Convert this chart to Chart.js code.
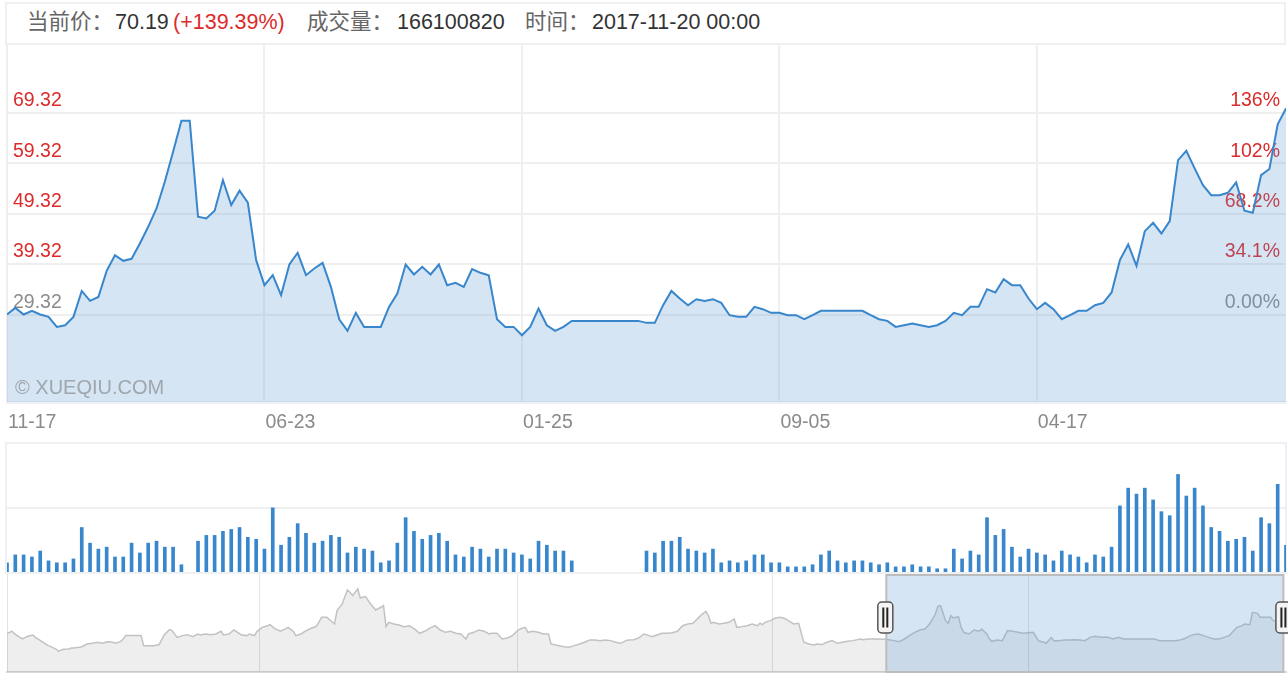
<!DOCTYPE html>
<html>
<head>
<meta charset="utf-8">
<script src="https://cdn.jsdelivr.net/npm/chart.js@4.4.1/dist/chart.umd.min.js"></script>
<style>
  body { margin: 0; background: #fff; width: 1288px; height: 674px; overflow: hidden; position: relative;
         font-family: "Liberation Sans", "Noto Sans CJK SC", sans-serif; }
  .frame { position: absolute; border: 2px solid #eef0f4; box-sizing: border-box; }
  .hdr { position: absolute; top: 10px; font-size: 21.5px; line-height: 24px; white-space: nowrap; }
  .lbl { color: #666; }
  .val { color: #333; }
  .up { color: #dd2a2a; }
  canvas { position: absolute; left: 0; }
  #mark { position: absolute; left: 15px; top: 376px; font-size: 20px; color: #9ea6ae; white-space: nowrap; }
</style>
</head>
<body>
<div class="frame" style="left:5px;top:2px;width:1281px;height:43px;"></div>
<span class="hdr lbl" style="left:27px">当前价：</span>
<span class="hdr val" id="hPrice" style="left:115px"></span>
<span class="hdr up" id="hChg" style="left:173px"></span>
<span class="hdr lbl" style="left:307px">成交量：</span>
<span class="hdr val" id="hVol" style="left:397px"></span>
<span class="hdr lbl" style="left:525px">时间：</span>
<span class="hdr val" id="hTime" style="left:592px"></span>

<canvas id="main" width="1288" height="396" style="top:44px"></canvas>
<div id="mark">© XUEQIU.COM</div>

<div class="frame" style="left:5px;top:442px;width:1282px;height:132px;"></div>
<canvas id="vol" width="1288" height="130" style="top:443px"></canvas>
<canvas id="nav" width="1288" height="100" style="top:574px"></canvas>

<script>
// 周线收盘价（2014-11-17 起）
const prices = [
  29.32, 30.64, 29.32, 30.05, 29.32, 28.86, 26.87, 27.2, 28.86, 34.0,
  32.03, 32.8, 37.98, 41.09, 39.97, 40.36, 43.41, 46.71, 50.35, 55.64,
  61.6, 67.75, 67.75, 48.7, 48.37, 49.89, 55.97, 51.01, 53.86, 51.48,
  40.1, 35.14, 37.12, 33.16, 39.24, 41.56, 37.12, 38.45, 39.57, 34.81,
  28.39, 26.08, 29.65, 26.87, 26.87, 26.87, 30.84, 33.49, 39.24, 37.26,
  38.78, 37.26, 39.24, 35.14, 35.6, 34.81, 38.32, 37.59, 37.12, 28.39,
  26.87, 26.87, 25.22, 26.87, 30.51, 27.2, 26.08, 26.87, 28.06, 28.06,
  28.06, 28.06, 28.06, 28.06, 28.06, 28.06, 28.06, 27.67, 27.67, 31.17,
  34.0, 32.49, 31.17, 32.36, 32.03, 32.36, 31.63, 29.19, 28.86, 28.86,
  30.84, 30.38, 29.65, 29.65, 29.19, 29.19, 28.39, 29.19, 30.05, 30.05,
  30.05, 30.05, 30.05, 30.05, 29.19, 28.39, 28.06, 26.87, 27.2, 27.53,
  27.2, 26.87, 27.2, 28.06, 29.65, 29.19, 30.84, 30.84, 34.35, 33.69,
  36.33, 35.14, 35.14, 32.49, 30.38, 31.63, 30.38, 28.39, 29.19, 30.05,
  30.05, 31.17, 31.63, 33.69, 40.1, 43.21, 38.98, 45.85, 47.51, 45.39,
  47.84, 59.94, 61.79, 58.29, 54.98, 52.99, 52.99, 53.46, 55.51, 49.89,
  49.49, 56.96, 58.16, 67.02, 70.19
];

// 成交量（百万股，0 为停牌周）
const volumes = [
  57, 106, 106, 93, 130, 69, 57, 57, 81, 276,
  179, 142, 154, 93, 93, 179, 118, 179, 191, 154,
  154, 45, 0, 191, 227, 227, 252, 264, 276, 215,
  203, 142, 398, 166, 215, 300, 240, 179, 191, 227,
  215, 118, 154, 142, 130, 57, 69, 179, 337, 252,
  203, 227, 240, 191, 106, 93, 154, 142, 93, 142,
  142, 118, 106, 81, 191, 166, 130, 130, 69, 0,
  0, 0, 0, 0, 0, 0, 0, 130, 118, 191,
  191, 215, 142, 130, 118, 142, 57, 69, 57, 69,
  106, 106, 57, 57, 32, 32, 32, 45, 106, 130,
  69, 57, 69, 69, 57, 45, 57, 32, 32, 45,
  32, 32, 20, 20, 142, 81, 130, 106, 337, 227,
  264, 154, 93, 142, 118, 106, 69, 130, 106, 93,
  57, 106, 93, 154, 410, 520, 483, 520, 447, 374,
  349, 605, 471, 520, 410, 276, 252, 191, 203, 215,
  130, 337, 300, 544, 166.1
];

const basePrice = 29.32;
const lastVolume = 166100820;
const lastTime = '2017-11-20 00:00';

const priceTicks = [29.32, 39.32, 49.32, 59.32, 69.32];
const priceMin = 11.98;
const priceMax = 82.95;
const xTickIdx = [0, 31, 62, 93, 124];
const xTickLabels = ['11-17', '06-23', '01-25', '09-05', '04-17'];

// 导航条：全历史（周序号 / 价格）
const navWeeks = [
  0, 2, 3, 5, 6, 8, 10, 11, 13, 14, 16, 17, 19, 20, 21, 22, 24, 25, 26, 28,
  29, 31, 33, 35, 37, 39, 41, 42, 44, 45, 46, 48, 50, 52, 53, 55, 57, 59, 61, 63,
  64, 66, 68, 70, 72, 74, 75, 77, 79, 81, 83, 84, 86, 88, 90, 91, 93, 94, 96, 97,
  99, 101, 102, 104, 106, 108, 109, 111, 112, 114, 116, 118, 120, 122, 124, 127, 128, 130, 132, 133,
  134, 136, 137, 139, 141, 143, 145, 146, 147, 148, 150, 152, 154, 156, 158, 160, 162,
  164, 166, 168, 170, 172, 174, 176, 178, 179, 181, 183, 185, 187, 188, 190, 192, 194, 196, 198, 199,
  201, 202, 204, 206, 208, 210, 211, 212, 214, 216, 218, 220, 222, 224, 226, 228, 230, 232, 234, 236,
  238, 240, 241, 243, 245, 247, 249, 250, 252, 254, 256, 258, 260, 262, 264, 266, 267, 269, 271, 272,
  273, 274, 276, 278, 280, 282, 283, 285, 287, 289, 291, 292, 293, 294, 296, 298, 300, 302, 303, 305,
  307, 309, 311, 313, 314, 316, 318, 320, 322, 324, 326, 328, 331,
  332, 334, 336, 340, 342, 344, 346, 348, 350, 352, 354, 356, 358, 360, 361, 362, 364, 365, 366, 367,
  369, 370, 371, 373, 375, 377, 378, 380, 381, 382, 384, 386, 388, 390, 392, 394, 396, 398, 400, 402,
  403, 405, 406, 408, 410, 412, 414, 416, 418, 420, 422, 424, 426, 427, 429, 431, 433, 435, 437, 439,
  441, 443, 445, 447, 449, 451, 453, 455, 457, 458, 460, 462, 464, 466, 468, 470, 472, 474, 476, 477,
  479, 480, 482, 483, 485, 486, 488, 490, 491, 493, 495
];
const navValues = [
  35.8, 38.1, 35.0, 31.1, 29.2, 32.3, 33.8, 31.1, 27.3, 25.4, 21.5, 20.3, 17.6, 14.9, 16.5, 17.3, 17.6, 18.8, 18.8, 19.6,
  20.3, 23.4, 24.2, 25.4, 24.2, 26.1, 25.4, 24.2, 26.1, 28.8, 33.1, 33.1, 33.1, 33.1, 21.5, 21.5, 21.5, 22.7, 34.2, 40.0,
  38.9, 31.1, 33.1, 34.2, 31.9, 35.0, 33.8, 35.0, 34.2, 35.0, 38.1, 33.8, 35.0, 39.6, 35.8, 33.8, 33.1, 35.0, 33.1, 38.1,
  42.7, 44.6, 45.8, 40.8, 38.1, 40.8, 42.7, 38.1, 33.1, 35.0, 38.9, 41.6, 43.9, 54.3, 54.3, 46.6, 62.0, 69.7, 85.9, 83.2,
  79.4, 87.1, 76.6, 78.2, 69.7, 62.8, 65.9, 67.8, 43.5, 48.5, 46.6, 45.4, 43.5, 44.6, 40.8, 35.8, 38.1,
  41.7, 44.6, 39.6, 36.9, 38.1, 35.8, 35.0, 29.2, 35.0, 36.9, 39.6, 38.1, 35.0, 35.8, 35.8, 29.2, 30.4, 33.1, 38.9, 40.8,
  42.7, 36.9, 38.1, 36.9, 35.0, 35.0, 23.4, 22.7, 21.5, 20.3, 19.6, 21.5, 23.4, 25.4, 28.1, 28.1, 27.3, 28.1, 27.3, 25.4,
  24.2, 27.3, 28.1, 28.4, 30.4, 35.0, 33.1, 31.9, 33.8, 35.8, 35.8, 36.5, 38.1, 44.6, 46.6, 47.4, 50.4, 56.2, 61.2, 56.2,
  47.4, 48.5, 46.6, 47.4, 48.5, 52.4, 42.7, 43.5, 44.6, 46.6, 44.6, 47.4, 45.8, 48.5, 50.4, 53.5, 54.3, 52.4, 50.4, 46.6,
  47.4, 25.4, 23.4, 22.3, 23.4, 22.7, 25.4, 27.3, 24.2, 25.4, 26.5, 27.3, 29.2,
  28.4, 29.2, 29.2, 28.8, 28.4, 27.3, 26.1, 29.2, 33.1, 36.9, 39.6, 40.8, 47.4, 58.1, 67.0, 67.8, 50.4, 47.4, 56.2, 53.5,
  55.0, 42.7, 36.9, 35.0, 39.6, 38.1, 40.8, 35.0, 29.2, 26.5, 28.1, 27.3, 38.9, 38.1, 36.9, 35.8, 36.5, 36.9, 27.3, 25.4,
  24.2, 31.1, 27.3, 27.3, 28.1, 28.1, 28.4, 28.1, 27.3, 31.1, 32.3, 31.1, 31.1, 31.1, 29.2, 31.1, 29.2, 29.2, 29.2, 29.2,
  29.2, 29.2, 29.2, 27.3, 27.3, 27.3, 27.3, 28.1, 30.0, 31.9, 34.2, 35.0, 33.1, 31.1, 29.2, 29.2, 31.1, 33.1, 39.6, 42.7,
  44.6, 46.6, 45.8, 60.1, 58.9, 54.3, 54.3, 54.3, 50.4, 49.7, 50.4
];
const navMin = -9;
const navMax = 104.4;
const navEnd = 496;
const navWindow = [341, 495];
const navTickWeeks = [0, 98, 198, 297, 396];
const navTickLabels = ['2008-05', '2010-03', '2012-02', '2014-01', '2015-12'];

const lineBlue = '#3886cc';
const fillBlue = 'rgba(91,151,207,0.25)';
const red = '#dd2a2a';
const family = "'Liberation Sans', Arial, sans-serif";

// 顶部信息
const last = prices[prices.length - 1];
document.getElementById('hPrice').textContent = last.toFixed(2);
document.getElementById('hChg').textContent = '(+' + ((last / basePrice - 1) * 100).toFixed(2) + '%)';
document.getElementById('hVol').textContent = lastVolume;
document.getElementById('hTime').textContent = lastTime;

function noPadY(s) { s.width = 0; s.paddingTop = 0; s.paddingBottom = 0; }

const priceAxis = {
    min: priceMin,
    max: priceMax,
    afterBuildTicks: s => { s.ticks = priceTicks.map(v => ({ value: v })); },
    afterFit: noPadY,
    border: { display: false },
};

// 主图
new Chart(document.getElementById('main'), {
    type: 'line',
    data: {
        datasets: [{
            data: prices.map((v, i) => ({ x: i, y: v })),
            borderColor: lineBlue,
            borderWidth: 2,
            backgroundColor: fillBlue,
            fill: 'start',
            pointRadius: 0,
            tension: 0
        }]
    },
    options: {
        responsive: false,
        animation: false,
        devicePixelRatio: 1,
        layout: { padding: { left: 7, right: 2, top: 0, bottom: 0 } },
        plugins: { legend: { display: false }, tooltip: { enabled: false } },
        scales: {
            x: {
                type: 'linear',
                min: 0,
                max: prices.length - 1,
                afterBuildTicks: s => { s.ticks = xTickIdx.map(v => ({ value: v })); },
                afterFit: s => { s.height = 38; s.paddingLeft = 0; s.paddingRight = 0; },
                grid: { color: '#efefef', lineWidth: 2, drawTicks: false },
                border: { display: true, color: '#eef0f4', width: 3 },
                ticks: {
                    align: 'start', labelOffset: 1, padding: 9, maxRotation: 0, autoSkip: false,
                    color: '#8a8a8a', font: { size: 19.5, family },
                    callback: (v, i) => xTickLabels[i]
                }
            },
            y: {
                ...priceAxis,
                position: 'left',
                grid: { color: '#efefef', lineWidth: 2, drawTicks: false },
                ticks: {
                    mirror: true, padding: 6, labelOffset: -12,
                    font: { size: 19.5, family },
                    color: c => c.index === 0 ? '#8c8c8c' : red,
                    callback: v => v.toFixed(2)
                }
            },
            y1: {
                ...priceAxis,
                position: 'right',
                grid: { display: false, drawTicks: false },
                ticks: {
                    mirror: true, padding: -6, labelOffset: -12,
                    font: { size: 19.5, family },
                    color: c => c.index === 0 ? '#8c8c8c' : red,
                    callback: v => ((v - basePrice) / basePrice * 100).toPrecision(3) + '%'
                }
            }
        }
    }
});

// 成交量
new Chart(document.getElementById('vol'), {
    type: 'bar',
    data: {
        datasets: [{
            data: volumes.map((v, i) => ({ x: i, y: v > 0 ? v : null })),
            backgroundColor: lineBlue,
            barThickness: 3,
            borderWidth: 0
        }]
    },
    options: {
        responsive: false,
        animation: false,
        devicePixelRatio: 1,
        layout: { padding: { left: 7, right: 2, top: 0, bottom: 1 } },
        plugins: { legend: { display: false }, tooltip: { enabled: false } },
        scales: {
            x: { type: 'linear', min: 0, max: prices.length - 1, offset: false, display: false },
            y: {
                min: 0, max: 800,
                afterBuildTicks: s => { s.ticks = [{ value: 400 }]; },
                afterFit: noPadY,
                grid: { color: '#efefef', lineWidth: 2, drawTicks: false },
                border: { display: false },
                ticks: { display: false }
            }
        }
    }
});

// 导航条选区与手柄
function drawHandle(ctx, cx, cy) {
    ctx.beginPath();
    ctx.roundRect(cx - 7.5, cy - 15.5, 15, 31, 4);
    ctx.fillStyle = '#f4f4f4';
    ctx.fill();
    ctx.lineWidth = 1.5;
    ctx.strokeStyle = '#555';
    ctx.stroke();
    ctx.beginPath();
    ctx.moveTo(cx - 2, cy - 10); ctx.lineTo(cx - 2, cy + 10);
    ctx.moveTo(cx + 2, cy - 10); ctx.lineTo(cx + 2, cy + 10);
    ctx.lineWidth = 2;
    ctx.strokeStyle = '#222';
    ctx.stroke();
}

const navWindowPlugin = {
    id: 'navWindow',
    afterDatasetsDraw(chart) {
        const { ctx, chartArea: a, scales: { x } } = chart;
        const x0 = x.getPixelForValue(navWindow[0]);
        const x1 = x.getPixelForValue(navWindow[1]);
        ctx.save();
        ctx.fillStyle = fillBlue;
        ctx.fillRect(x0, a.top, x1 - x0, a.bottom - a.top);
        ctx.strokeStyle = '#bdbdbd';
        ctx.lineWidth = 2;
        ctx.strokeRect(x0, a.top + 1, x1 - x0, a.bottom - a.top - 1);
        const cy = a.top + 43.5;
        drawHandle(ctx, x0 - 1, cy);
        drawHandle(ctx, x1, cy);
        ctx.restore();
    }
};

new Chart(document.getElementById('nav'), {
    type: 'line',
    data: {
        datasets: [{
            data: navWeeks.map((w, i) => ({ x: w, y: navValues[i] })),
            borderColor: '#c2c2c2',
            borderWidth: 1.5,
            backgroundColor: 'rgba(0,0,0,0.065)',
            fill: 'start',
            pointRadius: 0,
            tension: 0
        }]
    },
    options: {
        responsive: false,
        animation: false,
        devicePixelRatio: 1,
        layout: { padding: { left: 7, right: 2, top: 0, bottom: 0 } },
        plugins: { legend: { display: false }, tooltip: { enabled: false } },
        scales: {
            x: {
                type: 'linear', min: 0, max: navEnd,
                afterBuildTicks: s => { s.ticks = navTickWeeks.map(v => ({ value: v })); },
                afterFit: s => { s.height = 2; s.paddingLeft = 0; s.paddingRight = 0; },
                grid: { color: '#e4e4e4', lineWidth: 1, drawTicks: false },
                border: { display: true, color: '#d8d8d8', width: 2 },
                ticks: {
                    align: 'start', labelOffset: 10, padding: -23, maxRotation: 0, autoSkip: false,
                    color: '#333', font: { size: 19.5, family },
                    callback: (v, i) => navTickLabels[i]
                }
            },
            y: { display: false, min: navMin, max: navMax }
        }
    },
    plugins: [navWindowPlugin]
});
</script>
</body>
</html>
